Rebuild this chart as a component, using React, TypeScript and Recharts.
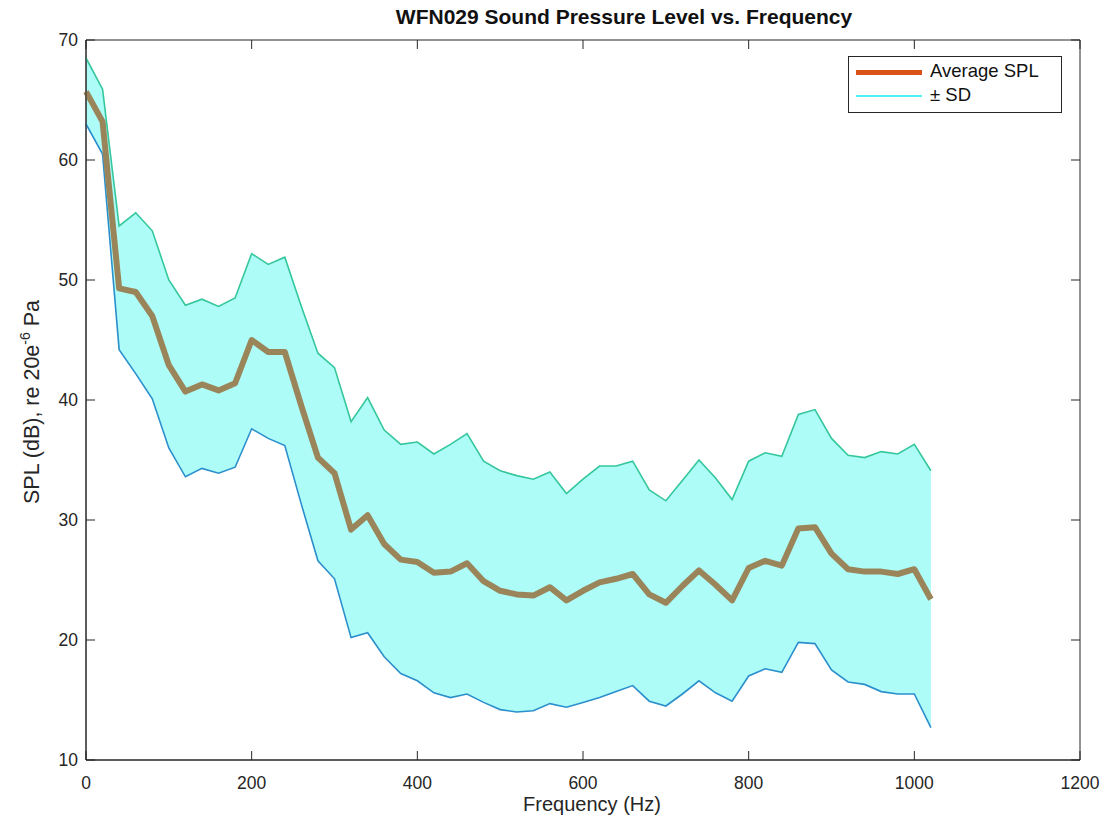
import React from "react";
import {
  ComposedChart,
  Area,
  Line,
  XAxis,
  YAxis,
  ReferenceArea
} from "recharts";

// frequency bins (Hz)
const freqs = [
  0, 20, 40, 60, 80, 100, 120, 140, 160, 180, 200, 220, 240, 260, 280, 300,
  320, 340, 360, 380, 400, 420, 440, 460, 480, 500, 520, 540, 560, 580, 600,
  620, 640, 660, 680, 700, 720, 740, 760, 780, 800, 820, 840, 860, 880, 900,
  920, 940, 960, 980, 1000, 1020
];

// average SPL (dB)
const avgSpl = [
  65.7, 63.2, 49.3, 49.0, 47.0, 42.9, 40.7, 41.3, 40.8, 41.4, 45.0, 44.0,
  44.0, 39.5, 35.2, 33.9, 29.2, 30.4, 28.0, 26.7, 26.5, 25.6, 25.7, 26.4,
  24.9, 24.1, 23.8, 23.7, 24.4, 23.3, 24.1, 24.8, 25.1, 25.5, 23.8, 23.1,
  24.5, 25.8, 24.6, 23.3, 26.0, 26.6, 26.2, 29.3, 29.4, 27.2, 25.9, 25.7,
  25.7, 25.5, 25.9, 23.4
];

// mean + SD
const upperSd = [
  68.5, 65.9, 54.5, 55.6, 54.1, 50.0, 47.9, 48.4, 47.8, 48.5, 52.2, 51.3,
  51.9, 47.8, 43.9, 42.7, 38.2, 40.2, 37.5, 36.3, 36.5, 35.5, 36.3, 37.2,
  34.9, 34.1, 33.7, 33.4, 34.0, 32.2, 33.4, 34.5, 34.5, 34.9, 32.5, 31.6,
  33.3, 35.0, 33.5, 31.7, 34.9, 35.6, 35.3, 38.8, 39.2, 36.8, 35.4, 35.2,
  35.7, 35.5, 36.3, 34.1
];

// mean - SD
const lowerSd = [
  63.0, 60.5, 44.2, 42.2, 40.1, 36.0, 33.6, 34.3, 33.9, 34.4, 37.6, 36.8,
  36.2, 31.3, 26.6, 25.1, 20.2, 20.6, 18.6, 17.2, 16.6, 15.6, 15.2, 15.5,
  14.8, 14.2, 14.0, 14.1, 14.7, 14.4, 14.8, 15.2, 15.7, 16.2, 14.9, 14.5,
  15.5, 16.6, 15.6, 14.9, 17.0, 17.6, 17.3, 19.8, 19.7, 17.5, 16.5, 16.3,
  15.7, 15.5, 15.5, 12.7
];

const xTicks = [0, 200, 400, 600, 800, 1000, 1200];
const yTicks = [10, 20, 30, 40, 50, 60, 70];

const rows = freqs.map((f, i) => ({
  freq: f,
  avg: avgSpl[i],
  upper: upperSd[i],
  lower: lowerSd[i],
  band: [lowerSd[i], upperSd[i]]
}));

const FONT = "'Liberation Sans', Arial, Helvetica, sans-serif";
const AXIS = "#262626";
const PLOT_W = 994;
const PLOT_H = 720;
const TICK = 9;

function XTick(props: any) {
  const { x, y, payload } = props;
  return (
    <g>
      <line x1={x} x2={x} y1={y} y2={y - TICK} stroke={AXIS} />
      <line x1={x} x2={x} y1={y - PLOT_H} y2={y - PLOT_H + TICK} stroke={AXIS} />
      <text x={x} y={y + 29} textAnchor="middle" fontSize={17.5} fill={AXIS} fontFamily={FONT}>
        {payload.value}
      </text>
    </g>
  );
}

function YTick(props: any) {
  const { x, y, payload } = props;
  return (
    <g>
      <line x1={x} x2={x + TICK} y1={y} y2={y} stroke={AXIS} />
      <line x1={x + PLOT_W} x2={x + PLOT_W - TICK} y1={y} y2={y} stroke={AXIS} />
      <text x={x - 8} y={y + 6} textAnchor="end" fontSize={17.5} fill={AXIS} fontFamily={FONT}>
        {payload.value}
      </text>
    </g>
  );
}

export default function App() {
  return (
    <div style={{ position: "relative", width: 1107, height: 822, fontFamily: FONT }}>
      <div
        style={{
          position: "absolute",
          left: 0,
          width: 1232,
          top: -3,
          textAlign: "center",
          fontWeight: "bold",
          fontSize: 21,
          color: "#111"
        }}
      >
        WFN029 Sound Pressure Level vs. Frequency
      </div>
      <ComposedChart
        width={1107}
        height={822}
        data={rows}
        margin={{ top: 32, right: 35, bottom: 0, left: 0 }}
      >
        <XAxis
          dataKey="freq"
          type="number"
          domain={[0, 1200]}
          ticks={xTicks}
          height={70}
          tickSize={0}
          tickMargin={0}
          tickLine={false}
          axisLine={{ stroke: AXIS }}
          tick={<XTick />}
          interval={0}
        />
        <YAxis
          type="number"
          domain={[10, 70]}
          ticks={yTicks}
          width={78}
          tickSize={0}
          tickMargin={0}
          tickLine={false}
          axisLine={{ stroke: AXIS }}
          tick={<YTick />}
          interval={0}
        />
        <Area
          dataKey="band"
          stroke="none"
          fill="#adfcf8"
          fillOpacity={1}
          isAnimationActive={false}
          dot={false}
          activeDot={false}
        />
        <Line
          dataKey="upper"
          stroke="#35c79c"
          strokeWidth={1.6}
          dot={false}
          activeDot={false}
          isAnimationActive={false}
        />
        <Line
          dataKey="lower"
          stroke="#2b8fcc"
          strokeWidth={1.6}
          dot={false}
          activeDot={false}
          isAnimationActive={false}
        />
        <Line
          dataKey="avg"
          stroke="#9a855a"
          strokeWidth={6}
          strokeLinejoin="round"
          dot={false}
          activeDot={false}
          isAnimationActive={false}
        />
        <ReferenceArea x1={0} x2={1200} y1={10} y2={70} fill="none" stroke={AXIS} strokeWidth={1} />
      </ComposedChart>
      <div
        style={{
          position: "absolute",
          left: 0,
          width: 1168,
          top: 785,
          textAlign: "center",
          fontSize: 20,
          color: "#262626"
        }}
      >
        Frequency (Hz)
      </div>
      <div
        style={{
          position: "absolute",
          left: 23,
          top: 394,
          width: 0,
          height: 0
        }}
      >
        <div
          style={{
            position: "absolute",
            transform: "translate(-50%, -50%) rotate(-90deg)",
            whiteSpace: "nowrap",
            fontSize: 21.5,
            color: "#262626"
          }}
        >
          SPL (dB), re 20e<sup style={{ fontSize: 14 }}>-6</sup> Pa
        </div>
      </div>
      <div
        style={{
          position: "absolute",
          left: 840,
          top: 48,
          width: 212,
          height: 55,
          border: "1px solid #262626",
          background: "#fff",
          fontSize: 18.5,
          color: "#111"
        }}
      >
        <div style={{ position: "absolute", left: 7, top: 13, width: 66, height: 5, background: "#d95319" }} />
        <div style={{ position: "absolute", left: 81, top: 3 }}>Average SPL</div>
        <div style={{ position: "absolute", left: 7, top: 38, width: 66, height: 2, background: "#4df3f3" }} />
        <div style={{ position: "absolute", left: 81, top: 27 }}>± SD</div>
      </div>
    </div>
  );
}
